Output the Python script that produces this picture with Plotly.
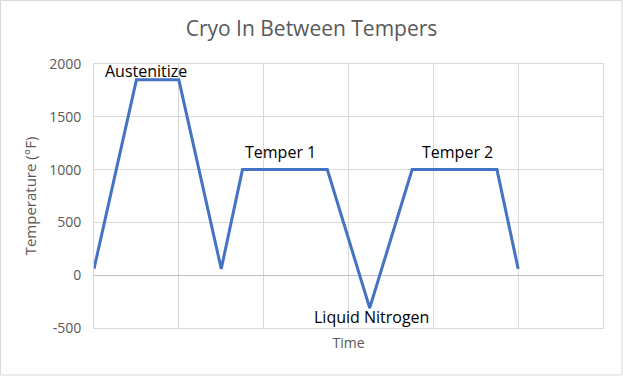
import plotly.graph_objects as go

time = [0, 0.5, 1, 1.5, 1.75, 2.75, 3.25, 3.75, 4.75, 5]
temp = [60, 1850, 1850, 60, 1000, 1000, -310, 1000, 1000, 60]

y_tickvals = [-500, 0, 500, 1000, 1500, 2000]
y_ticktext = ["-500", "0", "500", "1000", "1500", "2000"]

label_text = ["Austenitize", "Temper 1", "Liquid Nitrogen", "Temper 2"]
label_x = [0.61, 2.2, 3.27, 4.29]
label_y = [1930, 1170, -400, 1170]

FONT = "Open Sans"

fig = go.Figure()
fig.add_trace(go.Scatter(x=time, y=temp, mode="lines",
                         line=dict(color="#4472c4", width=3), showlegend=False,
                         hoverinfo="skip"))

for t, x, y in zip(label_text, label_x, label_y):
    fig.add_annotation(x=x, y=y, text=t, showarrow=False,
                       font=dict(family=FONT, size=16, color="#000000"))

W, H = 623, 376
ml, mr, mt, mb = 94, 20, 64, 48
pw, ph = W - ml - mr, H - mt - mb
fig.add_shape(type="rect", xref="paper", yref="paper",
              x0=-(ml - 0.5) / pw, x1=1 + (mr - 1) / pw,
              y0=-(mb - 1) / ph, y1=1 + (mt - 0.5) / ph,
              line=dict(color="#d9d9d9", width=1), layer="below")

fig.update_layout(
    width=W, height=H,
    margin=dict(l=ml, r=mr, t=mt, b=mb),
    paper_bgcolor="white", plot_bgcolor="white",
    title=dict(text="Cryo In Between Tempers", x=0.5, xanchor="center",
               y=1 - 29 / H, yanchor="middle",
               font=dict(family=FONT, size=21, color="#595959")),
    xaxis=dict(range=[0, 6], dtick=1, tick0=0, showticklabels=False,
               showgrid=True, gridcolor="#d9d9d9", gridwidth=1,
               zeroline=False, showline=True, linecolor="#d9d9d9",
               linewidth=1, mirror=True, ticks="",
               title=dict(text="Time", standoff=10,
                          font=dict(family=FONT, size=14, color="#595959"))),
    yaxis=dict(range=[-500, 2000], tickmode="array",
               tickvals=y_tickvals, ticktext=y_ticktext,
               showgrid=True, gridcolor="#d9d9d9", gridwidth=1,
               zeroline=True, zerolinecolor="#bfbfbf", zerolinewidth=1,
               showline=True, linecolor="#d9d9d9", linewidth=1, mirror=True,
               ticks="", ticklabelstandoff=9,
               tickfont=dict(family=FONT, size=14, color="#595959"),
               title=dict(text="Temperature (°F)", standoff=8,
                          font=dict(family=FONT, size=15, color="#595959"))),
)

fig.write_html("out.html", config={"displayModeBar": False},
               post_script="document.body.style.margin='0';document.body.style.padding='0';")
